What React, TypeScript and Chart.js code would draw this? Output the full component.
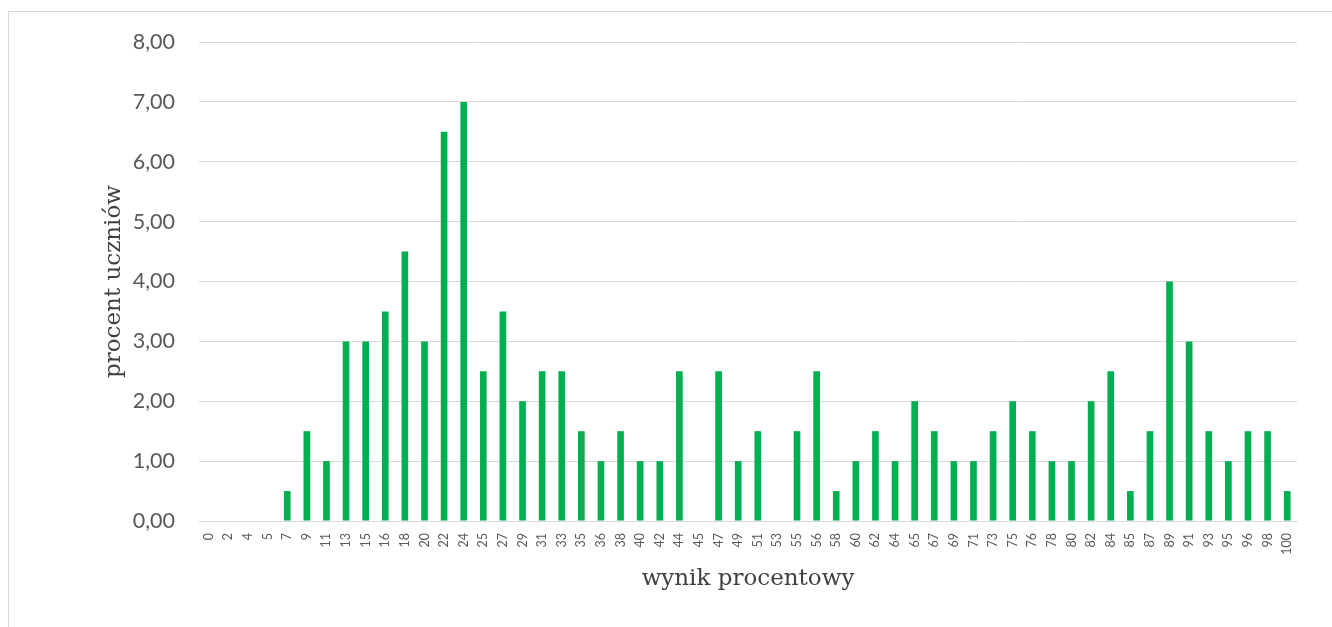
import React, { useEffect, useRef } from "react";
import { Chart, registerables } from "chart.js";

Chart.register(...registerables);

const categories = ["0","2","4","5","7","9","11","13","15","16","18","20","22","24","25","27","29","31","33","35","36","38","40","42","44","45","47","49","51","53","55","56","58","60","62","64","65","67","69","71","73","75","76","78","80","82","84","85","87","89","91","93","95","96","98","100"];
const percentValues = [0,0,0,0,0.5,1.5,1,3,3,3.5,4.5,3,6.5,7,2.5,3.5,2,2.5,2.5,1.5,1,1.5,1,1,2.5,0,2.5,1,1.5,0,1.5,2.5,0.5,1,1.5,1,2,1.5,1,1,1.5,2,1.5,1,1,2,2.5,0.5,1.5,4,3,1.5,1,1.5,1.5,0.5];
const yAxisTitle = "procent uczniów";
const xAxisTitle = "wynik procentowy";

export default function App() {
  const ref = useRef<HTMLCanvasElement | null>(null);
  useEffect(() => {
    if (!ref.current) return;
    const chart = new Chart(ref.current, {
      type: "bar",
      data: {
        labels: categories,
        datasets: [
          {
            data: percentValues,
            backgroundColor: "#00b050",
            borderWidth: 0,
            barPercentage: 0.34,
            categoryPercentage: 1,
          },
        ],
      },
      options: {
        responsive: false,
        animation: false,
        layout: { padding: { left: 100, right: 35, top: 42, bottom: 34 } },
        plugins: { legend: { display: false }, tooltip: { enabled: false } },
        scales: {
          x: {
            grid: { display: false },
            border: { display: true, color: "#d9d9d9" },
            ticks: {
              autoSkip: false,
              maxRotation: 90,
              minRotation: 90,
              color: "#595959",
              font: { family: "Lato", size: 12.5 },
              padding: 4,
            },
            title: {
              display: true,
              text: xAxisTitle,
              color: "#404040",
              font: { family: "DejaVu Serif", size: 23 },
              padding: 0,
            },
            afterFit: (s: any) => {
              s.height = 627 - 521 - 34;
            },
          },
          y: {
            min: 0,
            max: 8,
            ticks: {
              stepSize: 1,
              color: "#595959",
              font: { family: "Lato", size: 21.5 },
              padding: 24,
              callback: (v: any) => Number(v).toFixed(2).replace(".", ","),
            },
            grid: { color: "#d9d9d9", lineWidth: 1, drawTicks: false },
            border: { display: false },
            title: {
              display: true,
              text: yAxisTitle,
              color: "#404040",
              font: { family: "DejaVu Serif", size: 23 },
              padding: 0,
            },
            afterFit: (s: any) => {
              s.width = 199 - 100;
            },
          },
        },
      },
    });
    return () => chart.destroy();
  }, []);
  return (
    <>
      <div
        style={{
          position: "fixed",
          left: 8,
          top: 11,
          width: 1400,
          height: 700,
          borderLeft: "1px solid #d9d9d9",
          borderTop: "1px solid #d9d9d9",
          boxSizing: "border-box",
        }}
      />
      <canvas
        ref={ref}
        width={1332}
        height={627}
        style={{ position: "fixed", left: 0, top: 0, width: 1332, height: 627 }}
      />
    </>
  );
}
